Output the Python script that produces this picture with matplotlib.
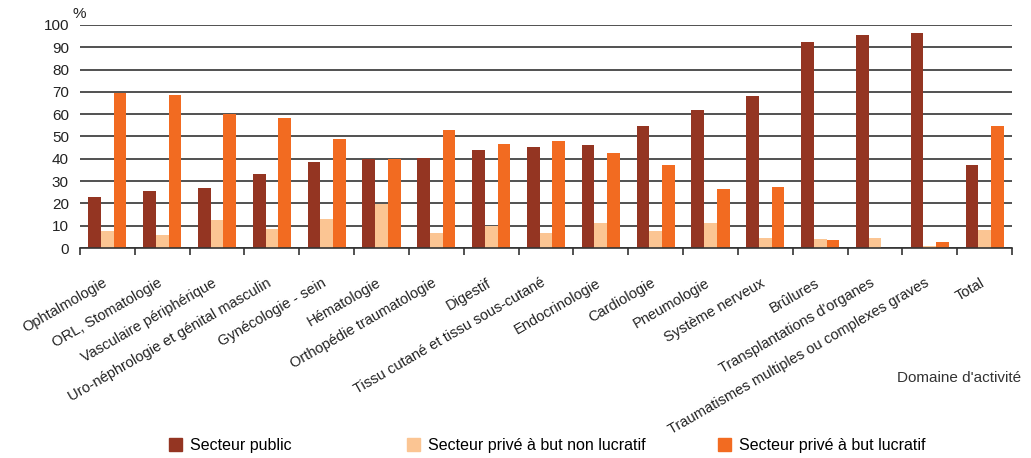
import numpy as np
import matplotlib
matplotlib.use("Agg")
import matplotlib.pyplot as plt
import matplotlib.transforms as mtransforms
from matplotlib.patches import Patch

plt.rcParams['font.family'] = ['Liberation Sans', 'DejaVu Sans']

domaines = [
    "Ophtalmologie", "ORL, Stomatologie", "Vasculaire périphérique",
    "Uro-néphrologie et génital masculin", "Gynécologie - sein", "Hématologie",
    "Orthopédie traumatologie", "Digestif", "Tissu cutané et tissu sous-cutané",
    "Endocrinologie", "Cardiologie", "Pneumologie", "Système nerveux", "Brûlures",
    "Transplantations d'organes", "Traumatismes multiples ou complexes graves", "Total",
]
public = [23, 25.6, 26.9, 33.2, 38.6, 39.9, 40.4, 43.9, 45.3, 46.2, 54.7, 61.9, 68.2, 92.4, 95.5, 96.4, 37.2]
prive_non_lucratif = [7.8, 5.8, 12.6, 8.7, 13.0, 19.9, 6.7, 10.0, 6.7, 11.2, 7.6, 11.2, 4.5, 4.0, 4.5, 0.9, 8.1]
prive_lucratif = [69.7, 68.6, 60.2, 58.3, 48.9, 39.9, 52.9, 46.6, 48.0, 42.6, 37.2, 26.5, 27.4, 3.6, 0, 2.7, 54.7]

series_labels = ["Secteur public", "Secteur privé à but non lucratif", "Secteur privé à but lucratif"]
colors = ["#943522", "#fbc593", "#f26b21"]

fig = plt.figure(figsize=(10.31, 4.58), dpi=100)
ax = fig.add_axes([0.0776, 0.4585, 0.904, 0.487])

x = np.arange(len(domaines))
w = 0.232
for i, (vals, c) in enumerate(zip([public, prive_non_lucratif, prive_lucratif], colors)):
    ax.bar(x + (i - 1) * w, vals, width=w, color=c, zorder=3)

ax.set_xlim(-0.5, len(domaines) - 0.5)
ax.set_ylim(0, 100)
ax.set_yticks(range(0, 101, 10))
ax.yaxis.grid(True, color="#333333", lw=1.2, zorder=1)
ax.tick_params(axis="y", length=0, pad=8, labelsize=11, labelcolor="#222222")

for s in ["top", "right", "left"]:
    ax.spines[s].set_visible(False)
ax.spines["bottom"].set_color("#333333")
ax.spines["bottom"].set_linewidth(1.2)
ax.spines["bottom"].set_zorder(4)

ax.set_xticks(x)
ax.set_xticklabels(domaines, rotation=30, ha="right", rotation_mode="anchor",
                   fontsize=10.5, color="#222222")
ax.tick_params(axis="x", which="major", length=0, pad=20)
ax.set_xticks(np.arange(-0.5, len(domaines)), minor=True)
ax.tick_params(axis="x", which="minor", length=5, width=1.2, color="#333333", direction="out")

# nudge the rotated labels a little to the left
shift = mtransforms.ScaledTranslation(-0.05, 0, fig.dpi_scale_trans)
for lab in ax.get_xticklabels():
    lab.set_transform(lab.get_transform() + shift)

ax.text(-0.008, 1.02, "%", transform=ax.transAxes, fontsize=11, color="#222222", ha="left", va="bottom")
fig.text(0.99, 0.175, "Domaine d'activité", ha="right", va="center", fontsize=11, color="#333333")

legend_x = [0.158, 0.389, 0.690]
for lab, c, lx in zip(series_labels, colors, legend_x):
    fig.legend(handles=[Patch(color=c)], labels=[lab], loc="center left",
               bbox_to_anchor=(lx, 0.027), frameon=False, fontsize=11.5,
               handlelength=0.8, handleheight=0.8, handletextpad=0.5, borderaxespad=0)

fig.savefig("out.png", dpi=100)
